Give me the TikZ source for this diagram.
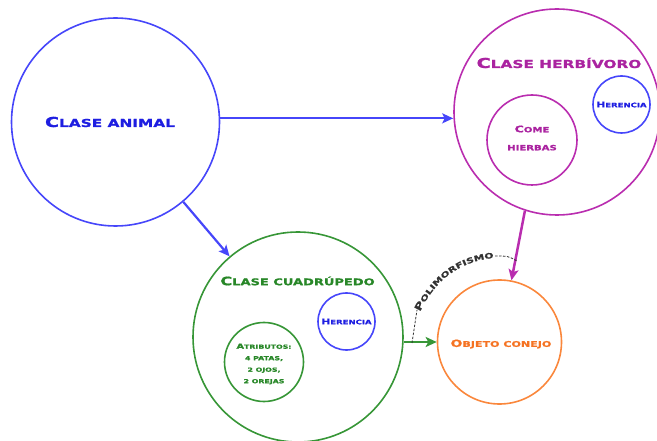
\documentclass[tikz,border=0pt]{standalone}
\usepackage{fontspec}
\newfontfamily\cop{DejaVu Sans Bold}[FakeStretch=1.4, FakeBold=1.2]
\usetikzlibrary{arrows.meta,decorations.text,calc}
\definecolor{cblue}{RGB}{70,70,250}
\definecolor{tblue}{RGB}{30,30,225}
\definecolor{cpurp}{RGB}{185,45,175}
\definecolor{tpurp}{RGB}{170,35,160}
\definecolor{cgreen}{RGB}{55,150,55}
\definecolor{tgreen}{RGB}{40,135,40}
\definecolor{corange}{RGB}{250,135,60}
\definecolor{torange}{RGB}{245,115,35}
\definecolor{dgray}{RGB}{50,50,50}
\newcommand\kp[3]{{\fontsize{#1pt}{#1pt}\selectfont #2}{\fontsize{\the\dimexpr #1pt*4/5\relax}{#1pt}\selectfont\MakeUppercase{#3}}}
\begin{document}
\begin{tikzpicture}[x=1pt,y=-1pt,
  circ/.style={circle, draw, line width=1.6pt, inner sep=0pt, minimum size=#1},
  lbl/.style={font=\cop, align=center, inner sep=0pt},
  arr/.style={-{Stealth[length=11pt,width=10pt,inset=2.5pt]}, line width=2.2pt},
  dsh/.style={dgray, line width=0.8pt, dash pattern=on 2.5pt off 1.5pt}]
\useasboundingbox (0,0) rectangle (657,441);
% Clase animal
\node[circ=208pt, draw=cblue] (animal) at (115.5,122) {};
\node[lbl, text=tblue] (tanimal) at (110,122) {\kp{13.7}{C}{lase animal}};
% Clase herbivoro
\node[circ=206pt, draw=cpurp] (herb) at (557,112) {};
\node[lbl, text=tpurp] (therb) at (559,63) {\kp{13.7}{C}{lase herbívoro}};
\node[circ=57pt, draw=cblue] (her1) at (621.5,104.5) {};
\node[lbl, text=tblue] (ther1) at (621.5,104.5) {\kp{7.6}{H}{erencia}};
\node[circ=90pt, draw=cpurp] (come) at (532,140) {};
\node[lbl, text=tpurp, font=\cop\fontsize{9pt}{18pt}\selectfont] (tcome) at (532,138) {\kp{9}{C}{ome}\\\kp{9}{}{hierbas}};
% Clase cuadrupedo
\node[circ=210pt, draw=cgreen] (cuad) at (298,337) {};
\node[lbl, text=tgreen] (tcuad) at (297.5,281) {\kp{11.6}{C}{lase cuadrúpedo}};
\node[circ=57pt, draw=cblue] (her2) at (346.5,321.5) {};
\node[lbl, text=tblue] (ther2) at (346.5,321.5) {\kp{7.6}{H}{erencia}};
\node[circ=79pt, draw=cgreen] (attr) at (264,362) {};
\node[lbl, text=tgreen, font=\cop\fontsize{7pt}{11.5pt}\selectfont] (tattr) at (264,364) {\kp{7}{A}{tributos:}\\\kp{7}{}{4 patas,}\\\kp{7}{}{2 ojos,}\\\kp{7}{}{2 orejas}};
% Objeto conejo
\node[circ=124pt, draw=corange] (conejo) at (499.5,342) {};
\node[lbl, text=torange] (tconejo) at (501,344) {\kp{9.9}{O}{bjeto conejo}};
% arrows
\draw[arr, cblue] (animal.2) -- (animal.2 -| herb.west);
\draw[arr, cblue] (animal) -- (cuad);
\draw[arr, cpurp, line width=2.5pt] (herb.-108) -- (conejo);
\draw[arr, cgreen] (conejo.west -| cuad.east) -- (conejo.west);
% polimorfismo
\coordinate (p1) at (412,343);
\coordinate (p2) at (517,261);
\draw[dsh] (p1) -- (417,310);
\path[decorate, decoration={text along path, text color=dgray, text align=center,
  text={|\cop\fontsize{9.5pt}{9.5pt}\selectfont|P|\cop\fontsize{7.6pt}{8pt}\selectfont|OLIMORFISMO}}]
  (420,312) .. controls (436,278) and (462,261) .. (494,258);
\draw[dsh] (495,256) .. controls (508,256) .. (p2);
\end{tikzpicture}
\end{document}
